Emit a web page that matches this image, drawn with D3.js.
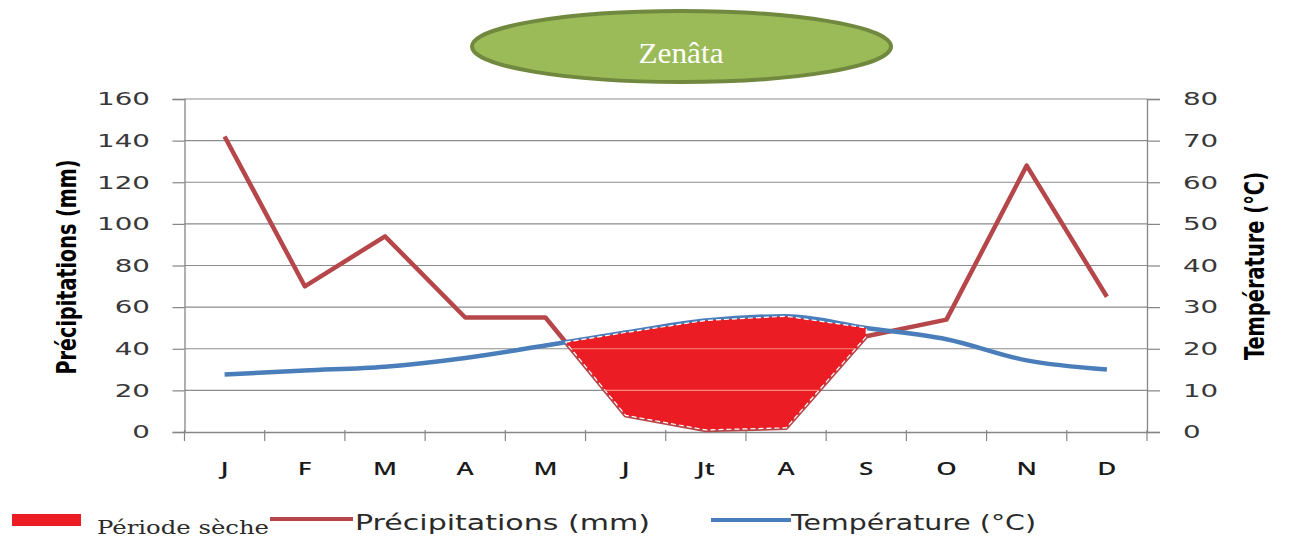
<!DOCTYPE html>
<html>
<head>
<meta charset="utf-8">
<script src="https://cdn.jsdelivr.net/npm/d3@7"></script>
<style>
  html, body { margin: 0; padding: 0; background: #fff; }
  svg { display: block; }
</style>
</head>
<body>
<svg id="chart" width="1290" height="544"></svg>
<script>
// ---- data ----
const months = ["J", "F", "M", "A", "M", "J", "Jt", "A", "S", "O", "N", "D"];
const precipitation = [142, 70, 94, 55, 55, 8, 1, 2, 46, 54, 128, 65];   // mm
const temperature = [13.8, 14.8, 15.7, 17.8, 20.8, 23.9, 26.8, 27.8, 25.0, 22.3, 17.2, 15.0]; // °C
const precipTicks = [0, 20, 40, 60, 80, 100, 120, 140, 160];
const tempTicks = [0, 10, 20, 30, 40, 50, 60, 70, 80];
const dryEndMonth = 8; // index of "S" where the dry-period shading closes
const chartTitle = "Zenâta";
const legendLabels = ["Période sèche", "Précipitations (mm)", "Température (°C)"];

// ---- layout ----
const svg = d3.select("#chart");
const plotLeft = 184.5, plotRight = 1147, plotTop = 99, plotBottom = 432;
const precipColor = "#b5474a", tempColor = "#4a7ebb", dryColor = "#ec1c24";
const gridColor = "#8c8c8c", axisColor = "#868686";

const x = d3.scaleBand().domain(d3.range(months.length)).range([plotLeft, plotRight]).padding(0);
const xc = i => x(i) + x.bandwidth() / 2;
const yP = d3.scaleLinear().domain([0, 160]).range([plotBottom, plotTop]);
const yT = d3.scaleLinear().domain([0, 80]).range([plotBottom, plotTop]);

// ---- title ellipse ----
svg.append("ellipse").attr("cx", 681.5).attr("cy", 46.5).attr("rx", 209.5).attr("ry", 35.5)
  .attr("fill", "#9bbb59").attr("stroke", "#71893f").attr("stroke-width", 4);
svg.append("text").attr("x", 681).attr("y", 63).attr("text-anchor", "middle")
  .attr("font-family", "'Liberation Serif', 'Times New Roman', serif").attr("font-size", 29)
  .attr("fill", "#fff").attr("textLength", 85).attr("lengthAdjust", "spacingAndGlyphs").text(chartTitle);

// ---- gridlines ----
const grid = svg.append("g");
grid.selectAll("line").data(precipTicks.slice(1)).join("line")
  .attr("x1", plotLeft).attr("x2", plotRight).attr("y1", d => yP(d)).attr("y2", d => yP(d))
  .attr("stroke", gridColor).attr("stroke-width", 1.2);

// ---- left axis ----
const sx = 1.54;
const gL = svg.append("g").attr("transform", `translate(${plotLeft},0)`)
  .call(d3.axisLeft(yP).tickValues(precipTicks).tickSize(12).tickPadding(0));
gL.select(".domain").attr("stroke", axisColor).attr("stroke-width", 1.3);
gL.selectAll(".tick line").attr("stroke", axisColor).attr("stroke-width", 1.2);
gL.selectAll(".tick text").attr("x", -34.5 / sx).attr("transform", `scale(${sx},1)`)
  .attr("font-family", "'DejaVu Sans', Verdana, sans-serif").attr("font-size", 18).attr("fill", "#383838");

// ---- right axis ----
const gR = svg.append("g").attr("transform", `translate(${plotRight},0)`)
  .call(d3.axisRight(yT).tickValues(tempTicks).tickSize(13).tickPadding(0));
gR.select(".domain").attr("stroke", axisColor).attr("stroke-width", 1.3);
gR.selectAll(".tick line").attr("stroke", axisColor).attr("stroke-width", 1.2);
gR.selectAll(".tick text").attr("x", 36 / sx).attr("transform", `scale(${sx},1)`)
  .attr("font-family", "'DejaVu Sans', Verdana, sans-serif").attr("font-size", 18).attr("fill", "#383838");

// ---- bottom axis ----
const gB = svg.append("g").attr("transform", `translate(0,${plotBottom})`)
  .call(d3.axisBottom(x).tickSize(0).tickPadding(0).tickFormat(i => months[i]));
gB.select(".domain").attr("stroke", axisColor).attr("stroke-width", 1.3);
gB.selectAll(".tick text").attr("y", 43).attr("dy", 0).attr("transform", "scale(1.45,1)")
  .attr("font-family", "'Open Sans', 'DejaVu Sans', sans-serif").attr("font-weight", 600)
  .attr("font-size", 18).attr("fill", "#1a1a1a");
// boundary tick marks
gB.append("g").selectAll("line").data(d3.range(months.length + 1)).join("line")
  .attr("x1", i => i < months.length ? x(i) : plotRight).attr("x2", i => i < months.length ? x(i) : plotRight)
  .attr("y1", -2).attr("y2", 9).attr("stroke", axisColor).attr("stroke-width", 1.2);

// ---- axis titles ----
svg.append("text").attr("transform", "translate(76,267) scale(1.45,1) rotate(-90)")
  .attr("text-anchor", "middle").attr("font-family", "'Liberation Sans Narrow', 'DejaVu Sans Condensed', Arial, sans-serif")
  .attr("font-weight", "bold").attr("font-size", 18).attr("fill", "#000")
  .attr("textLength", 215).attr("lengthAdjust", "spacingAndGlyphs").text("Précipitations (mm)");
svg.append("text").attr("transform", "translate(1264,266) scale(1.45,1) rotate(-90)")
  .attr("text-anchor", "middle").attr("font-family", "'Liberation Sans Narrow', 'DejaVu Sans Condensed', Arial, sans-serif")
  .attr("font-weight", "bold").attr("font-size", 18).attr("fill", "#000")
  .attr("textLength", 188).attr("lengthAdjust", "spacingAndGlyphs").text("Température (°C)");

// ---- dry period polygon (between P and 2T, from crossing to dryEndMonth) ----
function dryPolygon() {
  const d = precipitation.map((p, i) => p - 2 * temperature[i]);
  let start = null;
  for (let i = 0; i < d.length - 1; i++) {
    if (d[i] > 0 && d[i + 1] <= 0) { start = i + d[i] / (d[i] - d[i + 1]); break; }
  }
  const s0 = Math.floor(start);
  const t = start - s0;
  const xs = xc(s0) + t * (xc(s0 + 1) - xc(s0));
  const ys = yP(precipitation[s0] + t * (precipitation[s0 + 1] - precipitation[s0]));
  const topPts = [[xs, ys]], botPts = [];
  for (let i = s0 + 1; i <= dryEndMonth; i++) {
    topPts.push([xc(i), yT(temperature[i])]);
    botPts.push([xc(i), yP(precipitation[i])]);
  }
  return topPts.concat(botPts.reverse());
}
const dryPts = dryPolygon();
const dryPath = "M" + dryPts.map(p => p.join(",")).join("L") + "Z";

// ---- lines ----
const lineP = d3.line().x((d, i) => xc(i)).y(d => yP(d));
const lineT = d3.line().x((d, i) => xc(i)).y(d => yT(d)).curve(d3.curveMonotoneX);
svg.append("path").attr("d", lineP(precipitation)).attr("fill", "none")
  .attr("stroke", precipColor).attr("stroke-width", 4.5).attr("stroke-linejoin", "round");
svg.append("path").attr("d", lineT(temperature)).attr("fill", "none")
  .attr("stroke", tempColor).attr("stroke-width", 4.5).attr("stroke-linejoin", "round");

// dry fill on top
svg.append("path").attr("d", dryPath)
  .attr("fill", dryColor).attr("stroke", "#fff").attr("stroke-width", 1.2)
  .attr("stroke-dasharray", "5,3").attr("stroke-linejoin", "round");
// faint gridlines visible through the fill
svg.append("clipPath").attr("id", "dryclip").append("path").attr("d", dryPath);
svg.append("g").attr("clip-path", "url(#dryclip)").selectAll("line").data(precipTicks.slice(1)).join("line")
  .attr("x1", plotLeft).attr("x2", plotRight).attr("y1", d => yP(d)).attr("y2", d => yP(d))
  .attr("stroke", "#f58a7e").attr("stroke-width", 1.2);

// ---- legend ----
const lg = svg.append("g");
lg.append("rect").attr("x", 12).attr("y", 514).attr("width", 69).attr("height", 12).attr("fill", dryColor);
lg.append("text").attr("x", 97).attr("y", 534).attr("font-family", "'DejaVu Serif', serif").attr("font-size", 18)
  .attr("fill", "#2a2a2a").attr("textLength", 172).attr("lengthAdjust", "spacingAndGlyphs").text(legendLabels[0]);
lg.append("line").attr("x1", 270).attr("x2", 353).attr("y1", 519).attr("y2", 519)
  .attr("stroke", precipColor).attr("stroke-width", 4);
lg.append("text").attr("x", 355).attr("y", 530).attr("font-family", "'DejaVu Sans', Verdana, sans-serif").attr("font-size", 21)
  .attr("fill", "#2a2a2a").attr("textLength", 295).attr("lengthAdjust", "spacingAndGlyphs").text(legendLabels[1]);
lg.append("line").attr("x1", 711).attr("x2", 791).attr("y1", 520).attr("y2", 520)
  .attr("stroke", tempColor).attr("stroke-width", 4);
lg.append("text").attr("x", 791).attr("y", 530).attr("font-family", "'DejaVu Sans', Verdana, sans-serif").attr("font-size", 21)
  .attr("fill", "#2a2a2a").attr("textLength", 245).attr("lengthAdjust", "spacingAndGlyphs").text(legendLabels[2]);
</script>
</body>
</html>
